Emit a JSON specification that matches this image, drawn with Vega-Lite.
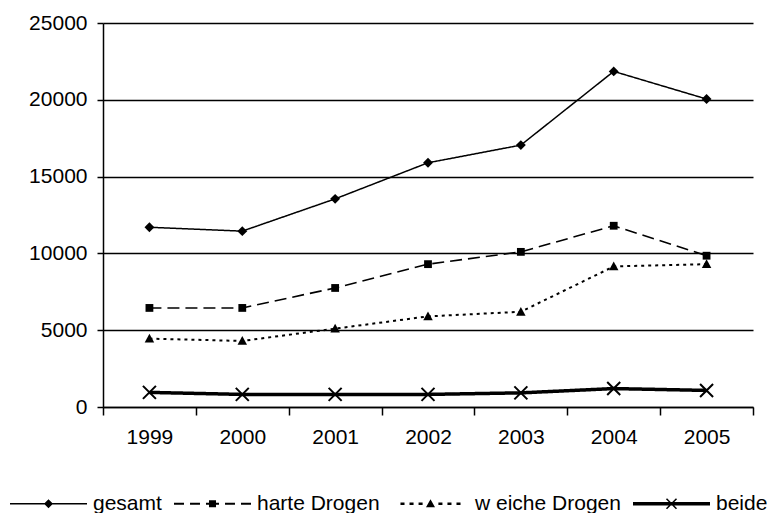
{
  "$schema": "https://vega.github.io/schema/vega-lite/v6.json",
  "width": 650,
  "height": 384,
  "autosize": "none",
  "padding": {"left": 103, "top": 23, "right": 14, "bottom": 106},
  "background": "white",
  "config": {
    "view": {"stroke": null},
    "axis": {
      "domainColor": "black", "tickColor": "black", "gridColor": "black", "labelColor": "black",
      "labelFont": "Liberation Sans", "labelFontSize": 21, "domainWidth": 1.5, "tickWidth": 1.5, "gridWidth": 1.5,
      "title": null
    }
  },
  "data": {
    "values": [
      {"year": "1999", "series": "gesamt", "value": 11700},
      {"year": "2000", "series": "gesamt", "value": 11450},
      {"year": "2001", "series": "gesamt", "value": 13550},
      {"year": "2002", "series": "gesamt", "value": 15900},
      {"year": "2003", "series": "gesamt", "value": 17050},
      {"year": "2004", "series": "gesamt", "value": 21850},
      {"year": "2005", "series": "gesamt", "value": 20050},
      {"year": "1999", "series": "harte Drogen", "value": 6450},
      {"year": "2000", "series": "harte Drogen", "value": 6450},
      {"year": "2001", "series": "harte Drogen", "value": 7750},
      {"year": "2002", "series": "harte Drogen", "value": 9300},
      {"year": "2003", "series": "harte Drogen", "value": 10100},
      {"year": "2004", "series": "harte Drogen", "value": 11800},
      {"year": "2005", "series": "harte Drogen", "value": 9850},
      {"year": "1999", "series": "w eiche Drogen", "value": 4450},
      {"year": "2000", "series": "w eiche Drogen", "value": 4300},
      {"year": "2001", "series": "w eiche Drogen", "value": 5100},
      {"year": "2002", "series": "w eiche Drogen", "value": 5900},
      {"year": "2003", "series": "w eiche Drogen", "value": 6200},
      {"year": "2004", "series": "w eiche Drogen", "value": 9150},
      {"year": "2005", "series": "w eiche Drogen", "value": 9300},
      {"year": "1999", "series": "beide", "value": 950},
      {"year": "2000", "series": "beide", "value": 820},
      {"year": "2001", "series": "beide", "value": 820},
      {"year": "2002", "series": "beide", "value": 820},
      {"year": "2003", "series": "beide", "value": 920},
      {"year": "2004", "series": "beide", "value": 1200},
      {"year": "2005", "series": "beide", "value": 1080}
    ]
  },
  "encoding": {
    "x": {
      "field": "year", "type": "ordinal",
      "scale": {"type": "band", "paddingInner": 0, "paddingOuter": 0},
      "axis": {"tickBand": "extent", "tickSize": 8, "labelPadding": 11, "labelAngle": 0, "grid": false}
    },
    "y": {
      "field": "value", "type": "quantitative",
      "scale": {"domain": [0, 25000], "nice": false},
      "axis": {"values": [0, 5000, 10000, 15000, 20000, 25000], "format": "d", "grid": true, "tickSize": 6, "labelPadding": 10}
    }
  },
  "layer": [
    {
      "mark": {"type": "line", "color": "black"},
      "encoding": {
        "strokeDash": {
          "field": "series", "type": "nominal", "legend": null,
          "scale": {"domain": ["gesamt", "harte Drogen", "w eiche Drogen", "beide"], "range": [[1, 0], [12, 6], [3, 4], [1, 0]]}
        },
        "strokeWidth": {
          "field": "series", "type": "nominal", "legend": null,
          "scale": {"type": "ordinal", "domain": ["gesamt", "harte Drogen", "w eiche Drogen", "beide"], "range": [1.5, 1.6, 2, 3.5]}
        }
      }
    },
    {
      "mark": {"type": "point", "filled": true, "color": "black", "opacity": 1, "size": 169, "strokeWidth": 0},
      "encoding": {
        "shape": {
          "field": "series", "type": "nominal", "legend": null,
          "scale": {
            "domain": ["gesamt", "harte Drogen", "w eiche Drogen", "beide"],
            "range": [
              "M0,-0.76L0.76,0L0,0.76L-0.76,0Z",
              "M-0.6,-0.6H0.6V0.6H-0.6Z",
              "M0,-0.75L0.73,0.6L-0.73,0.6Z",
              "M-0.89,-1.11L1.11,0.89L0.89,1.11L-1.11,-0.89ZM0.89,-1.11L1.11,-0.89L-0.89,1.11L-1.11,0.89Z"
            ]
          }
        }
      }
    },
    {
      "transform": [{"filter": "datum.value < 0"}],
      "mark": {"type": "point", "filled": true, "color": "black", "opacity": 1, "size": 5929, "strokeWidth": 0},
      "encoding": {
        "shape": {
          "field": "series", "type": "nominal",
          "scale": {
            "domain": ["gesamt", "harte Drogen", "w eiche Drogen", "beide"],
            "range": [
              "M-1,-0.0195H1V0.0195H-1ZM0,-0.117L0.117,0L0,0.117L-0.117,0Z",
              "M-1,-0.026H-0.74V0.026H-1ZM-0.584,-0.026H-0.325V0.026H-0.584ZM-0.169,-0.026H0.169V0.026H-0.169ZM0.325,-0.026H0.584V0.026H0.325ZM0.74,-0.026H1V0.026H0.74ZM-0.091,-0.091H0.091V0.091H-0.091Z",
              "M-0.78,-0.0325H-0.675V0.0325H-0.78ZM-0.545,-0.0325H-0.44V0.0325H-0.545ZM-0.31,-0.0325H-0.205V0.0325H-0.31ZM0.205,-0.0325H0.31V0.0325H0.205ZM0.44,-0.0325H0.545V0.0325H0.44ZM0.675,-0.0325H0.78V0.0325H0.675ZM0,-0.117L0.117,0.091L-0.117,0.091Z",
              "M-1,-0.0455H1V0.0455H-1ZM-0.116,-0.144L0.144,0.116L0.116,0.144L-0.144,-0.116ZM0.116,-0.144L0.144,-0.116L-0.116,0.144L-0.144,0.116Z"
            ]
          },
          "legend": {
            "title": null, "orient": "none", "direction": "horizontal",
            "legendX": -93, "legendY": 442,
            "symbolSize": 5929, "symbolFillColor": "black", "symbolStrokeWidth": 0, "symbolOpacity": 1,
            "labelFont": "Liberation Sans", "labelFontSize": 21, "labelColor": "black",
            "labelOffset": 6, "columnPadding": 12, "labelLimit": 400, "padding": 0
          }
        }
      }
    }
  ],
  "resolve": {"scale": {"shape": "independent"}}
}
